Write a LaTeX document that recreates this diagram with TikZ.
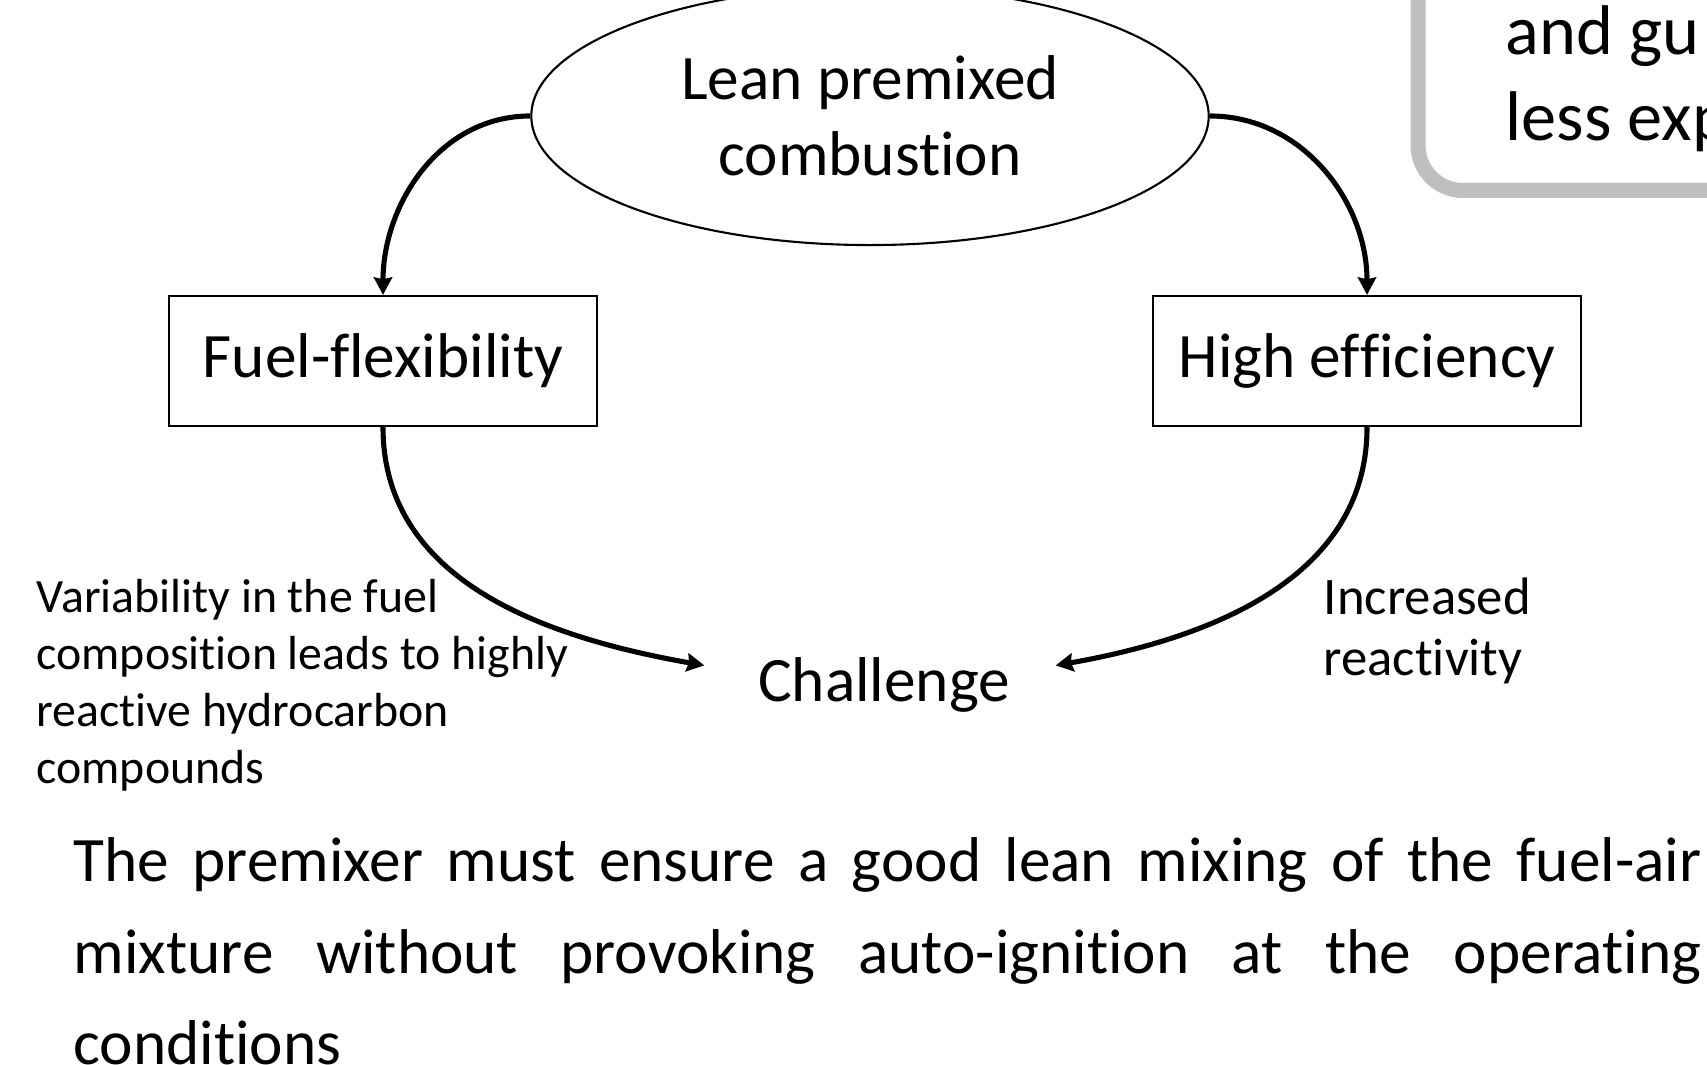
\documentclass[tikz,border=0pt]{standalone}
\usepackage{fontspec}
\setmainfont{Carlito}[Ligatures=NoCommon]
\usetikzlibrary{shapes.geometric,arrows.meta}
\definecolor{framegray}{HTML}{BFBFBF}
% keeps two letters apart so that they are not joined into one glyph
\newcommand{\sep}{\kern0pt{}}
\begin{document}
\begin{tikzpicture}[x=0.01cm,y=0.01cm,
  big/.style={font=\fontsize{18}{21.6}\selectfont},
  box/.style={big, draw, line width=0.6pt, minimum width=4.28cm,
    minimum height=1.30cm, inner sep=0pt},
  link/.style={line width=1.45pt,
    -{Stealth[length=5pt,width=5.2pt,inset=0.6pt]}}]
\useasboundingbox (0,0) rectangle (1707,-1065);

% central goal and its two benefits
\node[big, ellipse, draw, line width=0.6pt, minimum width=6.77cm,
  minimum height=2.58cm, inner sep=0pt, align=center]
  (lean) at (870,-116) {Lean premixed\\combust\sep ion};
\node[box] (fuel) at (383,-361) {Fuel-f\sep lexibility};
\node[box] (eff) at (1367,-361) {High ef\sep f\sep iciency};
\node[big, anchor=base, inner xsep=0.6cm] (chal) at (884,-702) {Challenge};

% side remarks
\node[anchor=north west, inner sep=0pt, align=left,
  font=\fontsize{13.6}{16.2}\selectfont]
  (var) at (36,-579) {Variability in the fuel\\composit\sep ion leads to highly\\react\sep ive hydrocarbon\\compounds};
\node[anchor=north west, inner sep=0pt, align=left,
  font=\fontsize{15}{17.4}\selectfont]
  (react) at (1323,-577) {Increased\\react\sep ivity};

% connectors
\draw[link] (lean.west) to[out=180,in=90] (fuel.north);
\draw[link] (lean.east) to[out=0,in=90] (eff.north);
\draw[link] (fuel.south) to[out=-90,in=170]
  ([xshift=0.07cm,yshift=0.2cm]chal.west);
\draw[link] (eff.south) to[out=-90,in=10]
  ([xshift=-0.15cm,yshift=0.2cm]chal.east);

% closing statement
\node[anchor=north west, inner sep=0pt, text width=16.27cm, align=justify,
  font=\fontsize{18}{26}\selectfont]
  (para) at (73,-837) {The premixer must ensure a good lean mixing of the fuel-air\linebreak
  mixture without provoking auto-ignit\sep ion at the operating\linebreak condit\sep ions};

% framed note at the upper right edge
\begin{scope}
  \clip (0,0) rectangle (1707,-1065);
  \draw[line width=4.27pt, framegray, rounded corners=0.45cm]
    (1418,60) -- (1418,-190.5) -- (1800,-190.5);
  \node[anchor=north west, inner sep=0pt, align=left,
    font=\fontsize{20}{24.5}\selectfont] (note) at (1505,-5) {and gu\\less exp};
\end{scope}
\end{tikzpicture}
\end{document}
